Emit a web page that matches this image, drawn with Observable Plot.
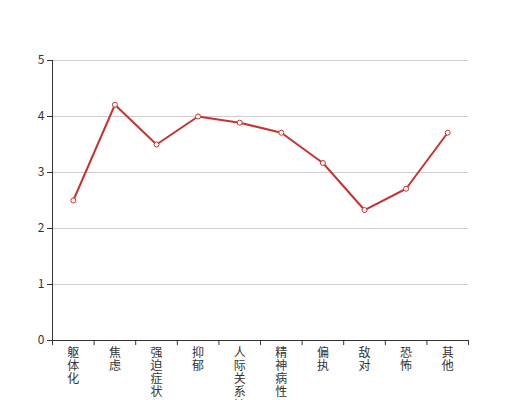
<!DOCTYPE html>
<html>
<head>
<meta charset="utf-8">
<script src="https://cdn.jsdelivr.net/npm/d3@7"></script>
<script src="https://cdn.jsdelivr.net/npm/@observablehq/plot@0.6"></script>
<style>
  html, body { margin: 0; padding: 0; background: #fff; }
  #chart svg { display: block; font-family: "Noto Sans CJK SC", sans-serif; }
</style>
</head>
<body>
<div id="chart"></div>
<script>
const categories = ["躯体化", "焦虑", "强迫症状", "抑郁", "人际关系敏感", "精神病性", "偏执", "敌对", "恐怖", "其他"];
const values = [2.5, 4.21, 3.5, 4.0, 3.89, 3.71, 3.17, 2.33, 2.71, 3.71];
const yTicks = [0, 1, 2, 3, 4, 5];

const data = categories.map((c, i) => ({name: c, idx: i + 0.5, value: values[i], label: c.split("").join("\n")}));
const boundaries = d3.range(categories.length + 1);

const color = "#c23531";
const axisColor = "#333";

const chart = Plot.plot({
  width: 520,
  height: 400,
  marginLeft: 52,
  marginRight: 52,
  marginTop: 60,
  marginBottom: 60,
  style: {fontSize: "12px", color: axisColor, background: "#fff"},
  x: {domain: [0, categories.length], axis: null},
  y: {domain: [0, 5], axis: null},
  marks: [
    Plot.ruleY(yTicks.filter(d => d > 0), {stroke: "#ccc", strokeWidth: 1, strokeOpacity: 1}),
    Plot.axisY({ticks: yTicks, tickSize: 5, tickPadding: 3, tickFormat: d3.format("d"), stroke: axisColor, strokeOpacity: 1, fill: axisColor, fontSize: 12, label: null}),
    Plot.ruleX([0], {stroke: axisColor, strokeWidth: 1}),
    Plot.ruleY([0], {stroke: axisColor, strokeWidth: 1}),
    Plot.axisX({ticks: boundaries, tickSize: 5, tickFormat: () => "", stroke: axisColor, strokeOpacity: 1, label: null}),
    Plot.text(data, {x: "idx", text: "label", frameAnchor: "bottom", lineAnchor: "top", dy: 7, lineHeight: 1.1, fontSize: 12, fill: axisColor}),
    Plot.line(data, {x: "idx", y: "value", stroke: color, strokeWidth: 2}),
    Plot.dot(data, {x: "idx", y: "value", r: 2.5, fill: "#fff", stroke: color, strokeWidth: 1})
  ]
});
document.getElementById("chart").appendChild(chart);
</script>
</body>
</html>
